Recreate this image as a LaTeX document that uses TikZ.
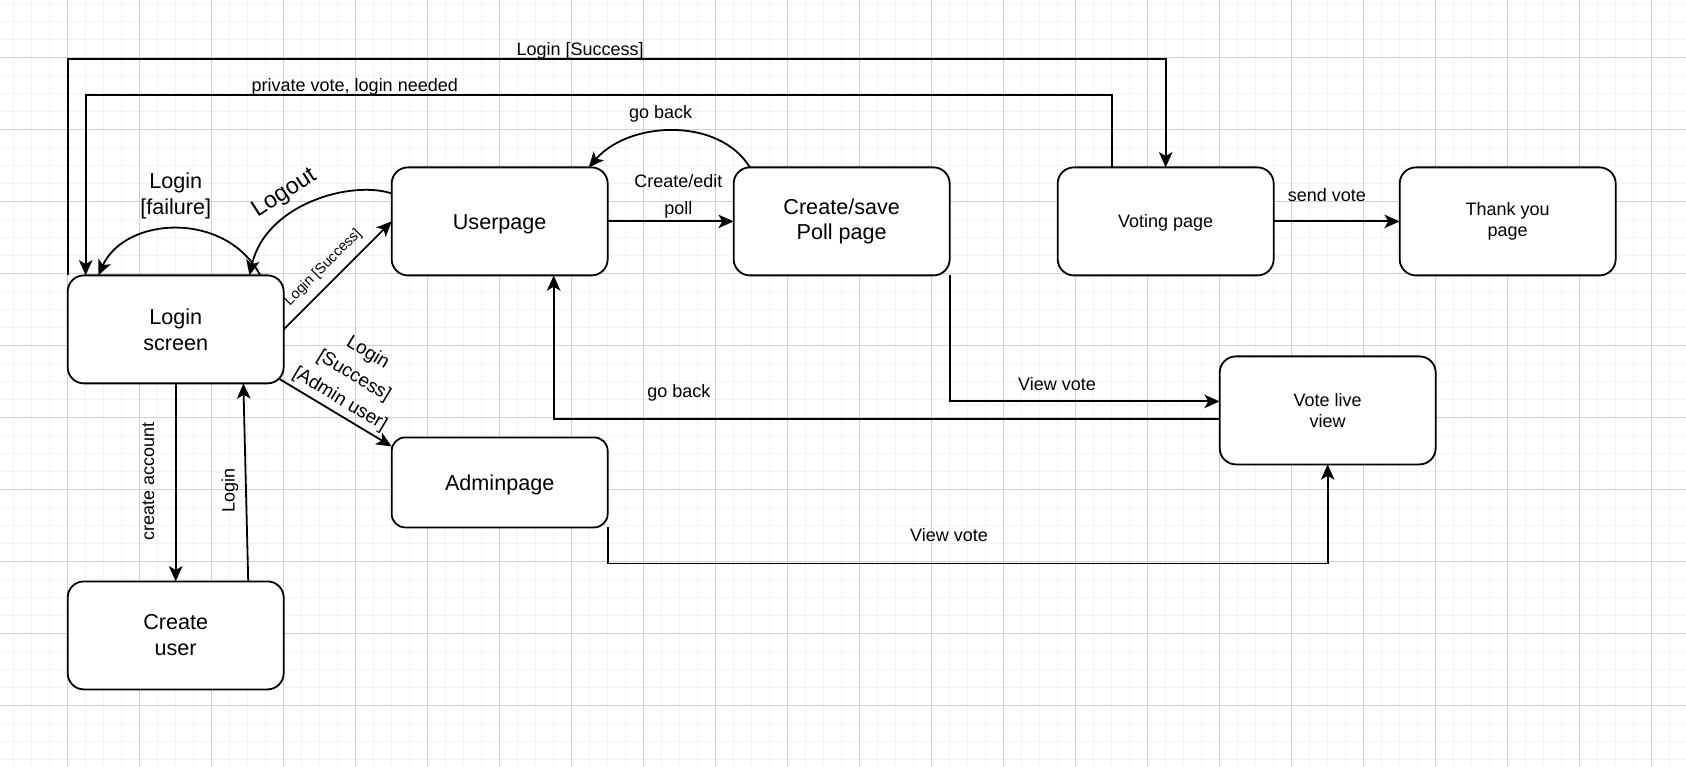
\documentclass[tikz,border=0pt]{standalone}
\usepackage{fontspec}
\setmainfont{Liberation Sans}
\usetikzlibrary{arrows.meta,calc}
\definecolor{gridminor}{HTML}{F3F3F3}
\definecolor{gridmajor}{HTML}{D0D0D0}
\tikzset{
  state/.style={draw, line width=1pt, rounded corners=9pt, fill=white,
    minimum width=120pt, minimum height=60pt, inner sep=0pt, outer sep=0pt,
    align=center, font=\fontsize{12}{14.4}\selectfont},
  smallstate/.style={state, font=\fontsize{10}{12}\selectfont},
  oneline/.style={text height=8.64pt, text depth=0pt},
  smalloneline/.style={text height=7.2pt, text depth=0pt},
  arr/.style={line width=1pt, -{Stealth[length=8.5pt,width=7.5pt,inset=2.2pt]}},
  lbl/.style={font=\fontsize{10}{12}\selectfont, inner sep=0pt, align=center},
  minorline/.style={gridminor, line width=0.8pt},
  majorline/.style={gridmajor, line width=0.45pt}
}
\begin{document}
\begin{tikzpicture}[x=1pt,y=-1pt]
\useasboundingbox (-37.6,-153) rectangle (899.07,272.56);
\fill[white] (-37.6,-153) rectangle (899.07,272.56);
% grid
\foreach \x in {-30,-20,...,890} \draw[minorline] (\x,-153) -- (\x,272.56);
\foreach \y in {-151.1,-141.1,...,270} \draw[minorline] (-37.6,\y) -- (899.07,\y);
\foreach \x in {0,40,...,880} \draw[majorline] (\x,-153) -- (\x,272.56);
\foreach \y in {-121.1,-81.1,...,250} \draw[majorline] (-37.6,\y) -- (899.07,\y);

% states
\node[state] (login) at (60,30) {Login\\screen};
\node[state, oneline] (user) at (240,-30) {Userpage};
\node[state] (poll) at (430,-30) {Create/save\\Poll page};
\node[smallstate, smalloneline] (voting) at (610,-30) {Voting page};
\node[smallstate] (thanks) at (800,-30) {Thank you\\page};
\node[smallstate] (live) at (700,75) {Vote live\\view};
\node[state, oneline, minimum height=50pt, rounded corners=7.5pt] (admin) at (240,115) {Adminpage};
\node[state] (create) at (60,200) {Create\\user};

% connectors
\draw[arr] (login.north west) -- ($(login.north west)+(0,-120)$) -| (voting.north);
\coordinate (vexit) at ($(voting.north)+(-30,0)$);
\coordinate (lentry) at ($(login.north west)+(10,0)$);
\draw[arr] (vexit) |- ($(lentry)+(0,-100)$) -- (lentry);
\draw[arr] ($(login.north west)+(107,0)$) .. controls (88,-36) and (32,-33) .. ($(login.north west)+(17,0)$);
\draw[arr] ($(user.west)+(0,-15.5)$) .. controls (158,-53) and (110,-40) .. ($(login.north west)+(101,0)$);
\draw[arr] (login.east) -- (user.west);
\draw[arr] ($(login.south east)+(-2.6,-2.6)$) -- ($(admin.north west)+(0,5)$);
\draw[arr] (login.south) -- (create.north);
\draw[arr] ($(create.north)+(40.3,0)$) -- ($(login.south)+(37.6,0)$);
\draw[arr] (user.east) -- (poll.west);
\draw[arr] ($(poll.north west)+(9,0)$) .. controls (362,-88) and (312,-86) .. ($(user.north east)+(-10.5,0)$);
\draw[arr] (poll.south east) |- ($(live.west)+(0,-5)$);
\draw[arr] ($(live.west)+(0,5)$) -| ($(user.south east)+(-30,0)$);
\draw[arr] (admin.south east) -- ($(admin.south east)+(0,20)$) -| (live.south);
\draw[arr] (voting.east) -- (thanks.west);

% labels
\node[lbl] (l1) at (284.7,-124.8) {Login [Success]};
\node[lbl] (l2) at (159.5,-104.6) {private vote, login needed};
\node[lbl, font=\fontsize{12}{14.8}\selectfont] (l3) at (60,-44.1) {Login\\{}[failure]};
\node[lbl, font=\fontsize{13}{15}\selectfont, rotate=33] (l4) at (120.5,-45.5) {Logout};
\node[lbl, font=\fontsize{8}{9.6}\selectfont, rotate=45] (l5) at (142,-4.4) {Login [Success]};
\node[lbl, font=\fontsize{10.5}{15}\selectfont, rotate=-31] (l6) at (158.9,56) {Login\\{}[Success]\\{}[Admin user]};
\node[lbl, rotate=90] (l7) at (44.8,114.4) {create account};
\node[lbl, rotate=90] (l8) at (90.2,119.3) {Login};
\node[lbl, font=\fontsize{10}{15}\selectfont] (l9) at (339.3,-44) {Create/edit\\poll};
\node[lbl] (l10) at (329.4,-89.9) {go back};
\node[lbl] (l11) at (699.6,-44.8) {send vote};
\node[lbl] (l12) at (549.6,60.3) {View vote};
\node[lbl] (l13) at (339.6,65.1) {go back};
\node[lbl] (l14) at (489.6,144.5) {View vote};
\end{tikzpicture}
\end{document}
